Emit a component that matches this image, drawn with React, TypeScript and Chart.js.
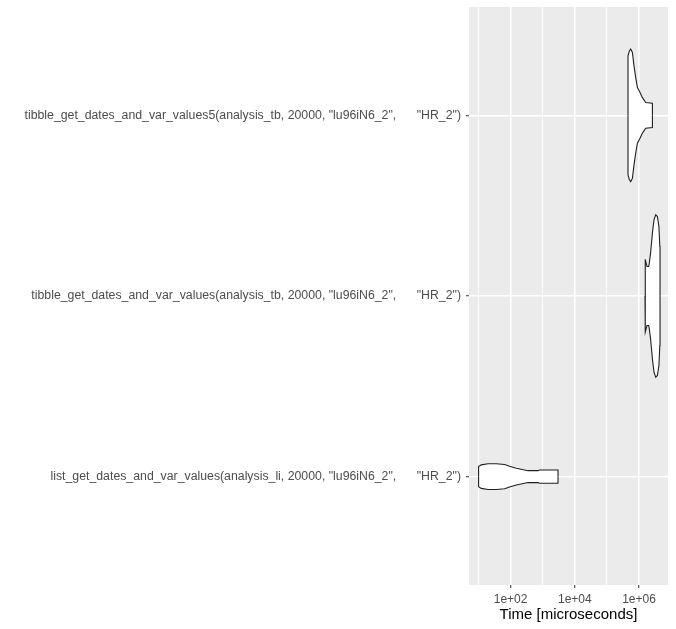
import React, { useEffect, useRef } from "react";
import { Chart, registerables } from "chart.js";

Chart.register(...registerables);

// Categories (bottom to top on the y axis)
const categories = [
  'list_get_dates_and_var_values(analysis_li, 20000, "lu96iN6_2",      "HR_2")',
  'tibble_get_dates_and_var_values(analysis_tb, 20000, "lu96iN6_2",      "HR_2")',
  'tibble_get_dates_and_var_values5(analysis_tb, 20000, "lu96iN6_2",      "HR_2")',
];

// Violin density profiles: log10(time in microseconds) and half-width (category units)
const listLogTime = [1.003, 1.087, 1.296, 1.555, 1.813, 1.969, 2.178, 2.542, 2.854, 2.903, 3.477];
const listHalfWidth = [0.056, 0.065, 0.071, 0.071, 0.067, 0.057, 0.046, 0.033, 0.033, 0.037, 0.037];

const tibbleLogTime = [6.187, 6.203, 6.25, 6.3, 6.32, 6.36, 6.417, 6.467, 6.52, 6.573, 6.62, 6.648, 6.655];
const tibbleHalfWidth = [0.204, 0.2, 0.163, 0.163, 0.182, 0.237, 0.348, 0.422, 0.45, 0.44, 0.385, 0.274, 0.274];

const tibble5LogTime = [5.657, 5.701, 5.741, 5.794, 5.844, 5.897, 5.95, 6.031, 6.106, 6.209, 6.417];
const tibble5HalfWidth = [0.33, 0.357, 0.367, 0.348, 0.274, 0.209, 0.154, 0.126, 0.098, 0.071, 0.067];

// x tick positions (log10 decades) and labels
const xTickValues = [1, 2, 3, 4, 5, 6];
const xTickLabels = ["", "1e+02", "", "1e+04", "", "1e+06"];
const xTitle = "Time [microseconds]";

// one half of a violin, closed to the centre line at both ends
function violinHalf(logs: number[], hws: number[], center: number, sign: number) {
  const pts = logs.map((x, i) => ({ x, y: center + sign * hws[i] }));
  return [{ x: logs[0], y: center }, ...pts, { x: logs[logs.length - 1], y: center }];
}

const panelBg = {
  id: "panelBg",
  beforeDraw(chart: any) {
    const { ctx, chartArea } = chart;
    ctx.save();
    ctx.fillStyle = "#EBEBEB";
    ctx.fillRect(chartArea.left, chartArea.top, chartArea.right - chartArea.left, chartArea.bottom - chartArea.top);
    ctx.restore();
  },
};

export default function App() {
  const ref = useRef<HTMLCanvasElement>(null);
  useEffect(() => {
    if (!ref.current) return;
    const violins: [number[], number[], number][] = [
      [listLogTime, listHalfWidth, 1],
      [tibbleLogTime, tibbleHalfWidth, 2],
      [tibble5LogTime, tibble5HalfWidth, 3],
    ];
    const datasets: any[] = [];
    violins.forEach(([logs, hws, c]) => {
      [1, -1].forEach((sign) => {
        datasets.push({
          data: violinHalf(logs, hws, c, sign),
          fill: { value: c },
          backgroundColor: "#FFFFFF",
          borderColor: "#1F1F1F",
          borderWidth: 1.1,
          pointRadius: 0,
          tension: 0,
        });
      });
    });
    const chart = new Chart(ref.current, {
      type: "line",
      data: { datasets },
      options: {
        animation: false,
        responsive: false,
        layout: { padding: { left: 0, right: 8, top: 7, bottom: 0 } },
        plugins: { legend: { display: false }, tooltip: { enabled: false } },
        scales: {
          x: {
            type: "linear",
            min: 0.704,
            max: 6.903,
            afterBuildTicks: (s: any) => {
              s.ticks = xTickValues.map((v) => ({ value: v }));
            },
            afterFit: (s: any) => {
              s.height = 44;
              s.paddingLeft = 0;
              s.paddingRight = 0;
            },
            grid: {
              color: "#FFFFFF",
              lineWidth: (c: any) => (c.tick && c.tick.value % 2 === 0 ? 1.5 : 0.8),
              tickColor: (c: any) => (c.tick && c.tick.value % 2 === 0 ? "#333333" : "rgba(0,0,0,0)"),
              tickLength: 3,
              tickWidth: 1,
            },
            border: { display: false },
            ticks: {
              autoSkip: false,
              maxRotation: 0,
              padding: 4,
              color: "#4D4D4D",
              font: { family: "Liberation Sans, Arial", size: 12 },
              callback: (v: any) => xTickLabels[xTickValues.indexOf(Number(v))] ?? "",
            },
            title: {
              display: true,
              text: xTitle,
              color: "#000000",
              font: { family: "Liberation Sans, Arial", size: 15 },
              padding: { top: 0, bottom: 5 },
            },
          },
          y: {
            type: "linear",
            min: 0.4,
            max: 3.6,
            afterBuildTicks: (s: any) => {
              s.ticks = categories.map((_, i) => ({ value: i + 1 }));
            },
            afterFit: (s: any) => {
              s.width = 469;
              s.paddingTop = 0;
              s.paddingBottom = 0;
            },
            grid: {
              color: "#FFFFFF",
              lineWidth: 1.5,
              tickColor: "#333333",
              tickLength: 3,
              tickWidth: 1,
            },
            border: { display: false },
            ticks: {
              autoSkip: false,
              padding: 5,
              color: "#4D4D4D",
              font: { family: "Liberation Sans, Arial", size: 12.3 },
              callback: (v: any) => categories[Math.round(Number(v)) - 1] ?? "",
            },
          },
        },
      },
      plugins: [panelBg],
    });
    return () => chart.destroy();
  }, []);
  return (
    <div style={{ position: "fixed", left: 0, top: 0, width: 676, height: 629, background: "#FFFFFF" }}>
      <canvas ref={ref} width={676} height={629} style={{ display: "block" }} />
    </div>
  );
}
